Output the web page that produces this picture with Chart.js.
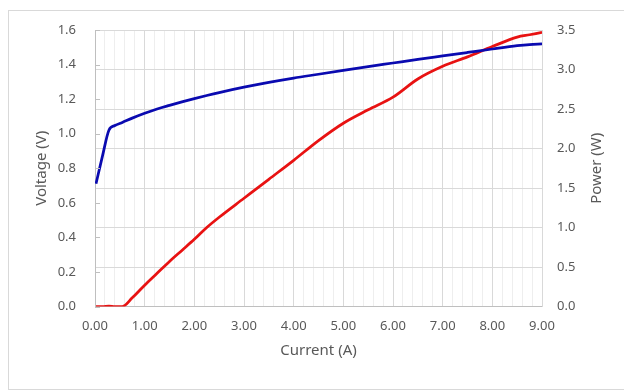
<!DOCTYPE html>
<html>
<head>
<meta charset="utf-8">
<script src="https://cdn.jsdelivr.net/npm/chart.js"></script>
<style>
    body { margin: 0; background: #fff; }
    #moldura { position: absolute; left: 8px; top: 10px; width: 630px; height: 378px; border: 1px solid #d9d9d9; }
    #ChartCelula { position: absolute; left: 0; top: 0; }
</style>
</head>
<body>
<div id="moldura"></div>
<canvas id="ChartCelula" width="624" height="392"></canvas>
<script>
// leituras do grafico
const corrente = [0.02, 0.15, 0.28, 0.4, 0.55, 0.75, 1.0, 1.25, 1.5, 1.75, 2.0, 2.25, 2.5, 3.0, 3.5, 4.0, 4.5, 5.0, 5.5, 6.0, 6.5, 7.0, 7.5, 8.0, 8.5, 8.75, 9.0];
const tensao = [0.71, 0.87, 1.02, 1.047, 1.065, 1.09, 1.118, 1.143, 1.164, 1.184, 1.203, 1.221, 1.238, 1.269, 1.297, 1.322, 1.344, 1.366, 1.388, 1.409, 1.43, 1.45, 1.47, 1.49, 1.509, 1.516, 1.52];
const potencia = [0, 0, 0.005, 0, 0, 0.11, 0.27, 0.42, 0.57, 0.71, 0.85, 1.0, 1.13, 1.37, 1.61, 1.85, 2.10, 2.32, 2.49, 2.65, 2.88, 3.04, 3.16, 3.29, 3.41, 3.44, 3.47];

const corTexto = '#595959';
const fonte = "'Noto Sans', 'Open Sans', sans-serif";

function pares(xs, ys) {
    return xs.map((x, i) => ({ x: x, y: ys[i] }));
}

function inteiro(v) {
    return Math.abs(v - Math.round(v)) < 1e-6;
}

// titulo da direita lido de baixo para cima, e os tracinhos do eixo da esquerda
const extras = {
    id: 'extras',
    afterDraw(chart) {
        const ctx = chart.ctx;
        const area = chart.chartArea;
        const esq = chart.scales.y;
        ctx.save();
        ctx.strokeStyle = '#bfbfbf';
        ctx.lineWidth = 1;
        esq.ticks.forEach((t) => {
            const py = Math.round(esq.getPixelForValue(t.value)) + 0.5;
            ctx.beginPath();
            ctx.moveTo(area.left, py);
            ctx.lineTo(area.left + 5, py);
            ctx.stroke();
        });
        ctx.translate(chart.scales.y1.right - 27, (area.top + area.bottom) / 2);
        ctx.rotate(-Math.PI / 2);
        ctx.fillStyle = corTexto;
        ctx.font = "15px 'Noto Sans', 'Open Sans', sans-serif";
        ctx.textAlign = 'center';
        ctx.textBaseline = 'middle';
        ctx.fillText('Power (W)', 0, 0);
        ctx.restore();
    }
};

const chartCelula = new Chart(document.getElementById('ChartCelula'), {
    type: 'line',
    data: {
        datasets: [{
            label: 'Voltage',
            data: pares(corrente, tensao),
            yAxisID: 'y',
            borderColor: '#0a0ab0',
            borderWidth: 2.75,
            pointRadius: 0,
            cubicInterpolationMode: 'monotone'
        }, {
            label: 'Power',
            data: pares(corrente, potencia),
            yAxisID: 'y1',
            borderColor: '#e81212',
            borderWidth: 2.75,
            pointRadius: 0,
            cubicInterpolationMode: 'monotone'
        }]
    },
    options: {
        responsive: false,
        animation: false,
        layout: { padding: { top: 30, left: 0, right: 0, bottom: 0 } },
        plugins: { legend: { display: false }, tooltip: { enabled: false } },
        scales: {
            x: {
                type: 'linear',
                min: 0,
                max: 9,
                afterFit: (s) => { s.height = 85.5; },
                ticks: {
                    stepSize: 0.2,
                    autoSkip: false,
                    maxRotation: 0,
                    padding: 12,
                    color: corTexto,
                    font: { family: fonte, size: 13 },
                    callback: (v) => inteiro(v) ? Number(v).toFixed(2) : ''
                },
                grid: {
                    drawTicks: false,
                    color: (ctx) => ctx.tick && inteiro(ctx.tick.value) ? '#d9d9d9' : '#eeeeee'
                },
                border: { color: '#bfbfbf' },
                title: {
                    display: true,
                    text: 'Current (A)',
                    color: corTexto,
                    font: { family: fonte, size: 15 },
                    padding: { top: 0, bottom: 32 }
                }
            },
            y: {
                position: 'left',
                min: 0,
                max: 1.6,
                afterFit: (s) => { s.width = 95; },
                ticks: {
                    stepSize: 0.2,
                    padding: 19,
                    color: corTexto,
                    font: { family: fonte, size: 13 },
                    callback: (v) => Number(v).toFixed(1)
                },
                grid: { drawOnChartArea: false, drawTicks: false },
                border: { color: '#bfbfbf' },
                title: {
                    display: true,
                    text: 'Voltage (V)',
                    color: corTexto,
                    font: { family: fonte, size: 15 },
                    padding: { top: 33, bottom: 0 }
                }
            },
            y1: {
                position: 'right',
                min: 0,
                max: 3.5,
                afterFit: (s) => { s.width = 82; },
                ticks: {
                    stepSize: 0.5,
                    padding: 15,
                    color: corTexto,
                    font: { family: fonte, size: 13 },
                    callback: (v) => Number(v).toFixed(1)
                },
                grid: { color: '#d9d9d9', drawTicks: false },
                border: { color: '#d9d9d9' }
            }
        }
    },
    plugins: [extras]
});
</script>
</body>
</html>
